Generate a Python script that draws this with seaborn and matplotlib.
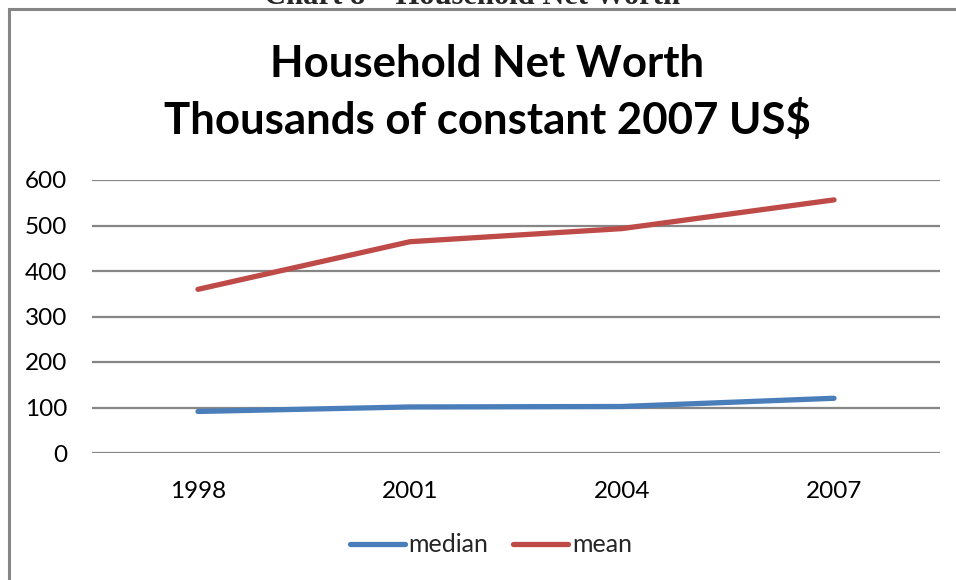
import matplotlib
matplotlib.use("Agg")
import matplotlib.pyplot as plt
from matplotlib.patches import Rectangle
from matplotlib.lines import Line2D
import seaborn as sns
import pandas as pd

years = ["1998", "2001", "2004", "2007"]
median_worth = [91.3, 101.2, 102.2, 120.3]
mean_worth = [359.7, 464.4, 493.2, 556.3]
series_names = ["median", "mean"]
y_ticks = [0, 100, 200, 300, 400, 500, 600]

df = pd.DataFrame({
    "year": years * 2,
    "value": median_worth + mean_worth,
    "series": [series_names[0]] * len(years) + [series_names[1]] * len(years),
})

sns.set_theme(style="white")
plt.rcParams["font.family"] = ["Lato", "DejaVu Sans"]

W, H = 956, 580
fig = plt.figure(figsize=(W / 100, H / 100), dpi=100)
ax = fig.add_axes([92 / W, 1 - 453 / H, (940 - 92) / W, (453 - 180) / H])

grid_col = "#868686"
for t in y_ticks:
    ax.axhline(t, color=grid_col, lw=1.6, zorder=1)

colors = {"median": "#4A7EBB", "mean": "#BE4B48"}
sns.lineplot(data=df, x="year", y="value", hue="series", sort=False,
             palette=colors, linewidth=3.8, ax=ax, legend=False, zorder=3,
             solid_capstyle="round")

ax.set_xlim(-0.5, 3.5)
ax.set_ylim(0, 600)
ax.set_yticks(y_ticks)
ax.set_yticklabels([str(t) for t in y_ticks])
ax.set_xlabel("")
ax.set_ylabel("")
for s in ax.spines.values():
    s.set_visible(False)
ax.tick_params(axis="both", length=0, labelsize=17.5, colors="black")
ax.tick_params(axis="y", pad=18)
ax.tick_params(axis="x", pad=20)

fig.text(487 / W, 1 - 64 / H, "Household Net Worth", ha="center", va="center",
         fontsize=31.5, fontweight="bold", color="black")
fig.text(487 / W, 1 - 120 / H, "Thousands of constant 2007 US$", ha="center", va="center",
         fontsize=31.5, fontweight="bold", color="black")

# Caption above the framed chart, mostly cut off at the top edge
fig.text(472 / W, 1 - 4 / H, "Chart 8 \u2013 Household Net Worth", ha="center", va="baseline",
         fontsize=22, fontweight="bold", family=["Liberation Serif", "DejaVu Serif"])

fig.patches.append(Rectangle((8.5 / W, -0.1), 1.2, 1 - 8.5 / H + 0.1,
                             transform=fig.transFigure, fill=False,
                             edgecolor=grid_col, lw=2.2))

handles = [Line2D([], [], color=colors[n], lw=3.8, solid_capstyle="round")
           for n in series_names]
fig.legend(handles, series_names, loc="center", bbox_to_anchor=(491 / W, 1 - 545 / H),
           ncol=2, frameon=False, fontsize=18, handlelength=2.2,
           handletextpad=0.15, columnspacing=1.0)

fig.savefig("out.png", dpi=100)
